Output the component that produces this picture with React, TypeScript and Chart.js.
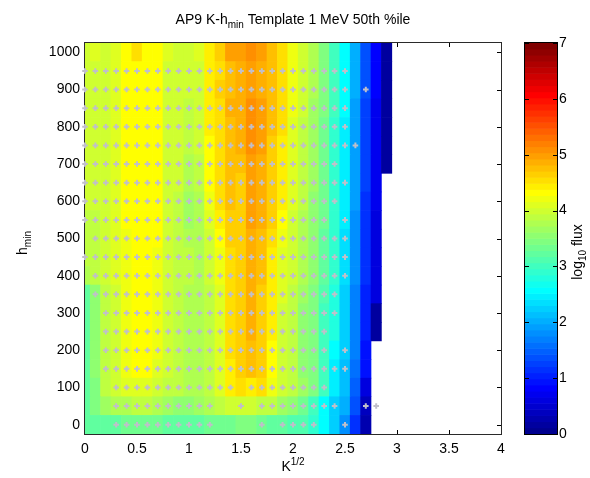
import React, { useEffect, useRef } from "react";
import { Chart, registerables } from "chart.js";

Chart.register(...registerables);

const FONT = '"Liberation Sans", Arial, Helvetica, sans-serif';

// K^1/2 cell centres (columns)
const kValues = [
  0, 0.1, 0.2, 0.3, 0.4, 0.5, 0.6, 0.7, 0.8, 0.9,
  1.0, 1.1, 1.2, 1.3, 1.4, 1.5, 1.6, 1.7, 1.8, 1.9,
  2.0, 2.1, 2.2, 2.3, 2.4, 2.5, 2.6, 2.7, 2.8, 2.9,
];

// h_min cell centres (rows, top to bottom)
const hValues = [1000, 950, 900, 850, 800, 750, 700, 650, 600, 550, 500, 450, 400, 350, 300, 250, 200, 150, 100, 50, 0];

// log10 flux per row (same order as hValues), per column (same order as kValues)
const fluxRows: (number | null)[][] = [
  [4.05, 4.15, 4.05, 4.2, 4.35, 4.55, 4.4, 4.4, 4.15, 4.1, 4.1, 4.15, 4.45, 4.7, 5.0, 5.0, 5.15, 5.0, 4.85, 4.6, 4.27, 4.06, 3.8, 3.5, 3.1, 2.62, 2.05, 1.4, 0.85, 0.2],
  [4.0, 4.05, 4.0, 4.2, 4.35, 4.4, 4.4, 4.4, 4.1, 4.0, 4.0, 4.1, 4.45, 4.6, 4.85, 4.95, 5.05, 4.95, 4.8, 4.6, 4.27, 4.06, 3.8, 3.52, 3.1, 2.62, 2.05, 1.4, 0.85, 0.2],
  [4.0, 4.05, 4.0, 4.2, 4.35, 4.4, 4.4, 4.4, 4.1, 4.0, 4.0, 4.1, 4.5, 4.65, 4.85, 4.95, 5.05, 4.95, 4.8, 4.6, 4.27, 4.06, 3.8, 3.52, 3.1, 2.62, 2.05, 1.4, 0.85, 0.2],
  [4.0, 4.05, 4.0, 4.2, 4.35, 4.4, 4.4, 4.4, 4.1, 4.0, 3.95, 4.05, 4.45, 4.6, 4.9, 4.95, 5.1, 5.05, 4.8, 4.6, 4.25, 4.0, 3.75, 3.45, 3.05, 2.6, 2.0, 1.35, 0.8, 0.2],
  [4.0, 4.05, 4.0, 4.2, 4.35, 4.4, 4.4, 4.4, 4.1, 4.0, 3.9, 4.05, 4.45, 4.6, 4.85, 4.95, 5.1, 5.05, 4.8, 4.55, 4.2, 3.95, 3.7, 3.4, 3.0, 2.55, 1.95, 1.3, 0.8, 0.2],
  [4.0, 4.05, 4.0, 4.2, 4.35, 4.4, 4.4, 4.4, 4.1, 4.0, 3.9, 4.0, 4.4, 4.6, 4.85, 4.9, 5.1, 5.0, 4.75, 4.5, 4.2, 3.95, 3.7, 3.4, 3.0, 2.55, 1.95, 1.3, 0.8, 0.2],
  [4.0, 4.05, 4.0, 4.2, 4.35, 4.4, 4.4, 4.4, 4.1, 4.0, 3.85, 3.95, 4.4, 4.6, 4.85, 4.8, 5.05, 4.95, 4.75, 4.5, 4.2, 3.95, 3.7, 3.4, 3.0, 2.55, 1.95, 1.3, 0.8, 0.2],
  [4.0, 4.05, 4.0, 4.2, 4.35, 4.4, 4.4, 4.4, 4.1, 4.0, 3.8, 3.9, 4.35, 4.6, 4.85, 4.75, 5.0, 4.95, 4.7, 4.45, 4.15, 3.9, 3.7, 3.4, 3.0, 2.55, 1.95, 1.3, 0.75, null],
  [4.0, 4.0, 4.0, 4.2, 4.35, 4.4, 4.4, 4.4, 4.1, 3.95, 3.75, 3.8, 4.3, 4.55, 4.8, 4.75, 5.0, 4.9, 4.7, 4.45, 4.15, 3.9, 3.65, 3.35, 3.0, 2.5, 1.95, 1.25, 0.75, null],
  [3.95, 3.95, 4.0, 4.2, 4.35, 4.4, 4.4, 4.4, 4.1, 3.9, 3.75, 3.8, 4.2, 4.5, 4.75, 4.75, 5.0, 4.9, 4.7, 4.4, 4.1, 3.85, 3.65, 3.35, 2.95, 2.5, 1.9, 1.2, 0.7, null],
  [3.95, 3.95, 4.0, 4.15, 4.3, 4.4, 4.4, 4.35, 4.05, 3.95, 3.85, 3.8, 4.1, 4.35, 4.65, 4.75, 4.95, 4.85, 4.55, 4.25, 4.0, 3.8, 3.6, 3.3, 2.95, 2.45, 1.9, 1.15, 0.7, null],
  [3.95, 3.95, 4.0, 4.15, 4.3, 4.4, 4.4, 4.3, 4.05, 3.95, 3.9, 3.8, 4.0, 4.25, 4.6, 4.75, 4.9, 4.8, 4.5, 4.2, 4.0, 3.8, 3.6, 3.3, 2.95, 2.45, 1.9, 1.15, 0.7, null],
  [3.85, 3.9, 4.0, 4.15, 4.3, 4.4, 4.4, 4.3, 4.05, 3.95, 3.9, 3.8, 4.0, 4.25, 4.6, 4.75, 4.9, 4.8, 4.5, 4.2, 4.0, 3.8, 3.6, 3.3, 2.95, 2.45, 1.9, 1.15, 0.7, null],
  [3.3, 3.65, 3.95, 4.1, 4.25, 4.4, 4.4, 4.25, 4.0, 3.95, 3.85, 3.8, 3.95, 4.2, 4.6, 4.75, 4.9, 4.75, 4.45, 4.15, 3.95, 3.7, 3.5, 3.15, 2.85, 2.3, 1.75, 1.1, 0.65, null],
  [3.3, 3.6, 3.95, 4.1, 4.25, 4.4, 4.4, 4.25, 4.0, 3.95, 3.85, 3.8, 3.95, 4.2, 4.6, 4.75, 4.9, 4.75, 4.45, 4.1, 3.95, 3.65, 3.45, 3.1, 2.8, 2.25, 1.7, 1.05, 0.2, null],
  [3.3, 3.6, 3.95, 4.1, 4.25, 4.4, 4.4, 4.25, 4.0, 3.95, 3.85, 3.8, 3.95, 4.2, 4.6, 4.75, 4.9, 4.75, 4.45, 4.1, 3.95, 3.65, 3.45, 3.1, 2.8, 2.25, 1.7, 1.05, 0.2, null],
  [3.3, 3.6, 3.95, 4.1, 4.25, 4.4, 4.4, 4.25, 4.0, 3.95, 3.85, 3.8, 3.95, 4.2, 4.55, 4.7, 4.85, 4.7, 4.4, 4.1, 3.95, 3.65, 3.45, 3.05, 2.6, 2.25, 1.7, 1.0, null, null],
  [3.3, 3.6, 3.95, 4.1, 4.25, 4.4, 4.35, 4.2, 4.0, 3.95, 3.85, 3.8, 3.95, 4.2, 4.5, 4.65, 4.8, 4.65, 4.35, 4.1, 3.95, 3.65, 3.45, 3.05, 2.55, 2.2, 1.6, 0.95, null, null],
  [3.3, 3.55, 3.9, 4.0, 4.15, 4.2, 4.15, 4.05, 3.95, 3.9, 3.85, 3.8, 3.95, 4.15, 4.45, 4.55, 4.5, 4.55, 4.25, 4.1, 3.95, 3.7, 3.5, 3.05, 2.55, 2.2, 1.55, 0.7, null, null],
  [3.3, 3.45, 3.7, 3.8, 3.85, 3.9, 3.9, 3.8, 3.7, 3.65, 3.65, 3.7, 3.8, 3.9, 4.0, 4.1, 4.0, 3.95, 3.9, 3.75, 3.6, 3.4, 3.1, 2.6, 2.3, 2.05, 1.4, 0.45, null, null],
  [3.25, 3.3, 3.3, 3.3, 3.35, 3.35, 3.35, 3.35, 3.3, 3.3, 3.3, 3.3, 3.35, 3.35, 3.35, 3.5, 3.45, 3.35, 3.3, 3.25, 3.2, 3.2, 2.9, 2.6, 2.25, 1.9, 1.25, 0.35, null, null],
];

// Column index ranges (inclusive) of the grey template markers, per row (same order as hValues)
const dotRanges: number[][][] = [
  [],
  [[0, 25]],
  [[0, 25], [27, 27]],
  [[0, 25]],
  [[0, 25]],
  [[0, 26]],
  [[0, 24]],
  [[0, 25]],
  [[0, 24]],
  [[0, 23], [25, 25]],
  [[1, 25]],
  [[0, 25]],
  [[1, 25]],
  [[1, 24]],
  [[2, 24]],
  [[2, 23]],
  [[2, 23], [25, 25]],
  [[2, 25]],
  [[3, 14], [16, 23]],
  [[3, 12], [15, 15], [17, 24], [27, 28]],
  [[3, 12], [17, 17], [19, 22], [25, 25]],
];

const xTicks = [0, 0.5, 1, 1.5, 2, 2.5, 3, 3.5, 4];
const yTicks = [0, 100, 200, 300, 400, 500, 600, 700, 800, 900, 1000];
const cbTicks = [0, 1, 2, 3, 4, 5, 6, 7];
const cbMin = 0;
const cbMax = 7;

// MATLAB jet(64)
function jet64(i: number): string {
  const k = i + 1;
  let r = 0, g = 0, b = 0;
  if (k >= 9 && k <= 24) g = (k - 8) / 16;
  else if (k >= 25 && k <= 39) g = 1;
  else if (k >= 40 && k <= 55) g = (56 - k) / 16;
  if (k >= 25 && k <= 40) r = (k - 24) / 16;
  else if (k >= 41 && k <= 55) r = 1;
  else if (k >= 56) r = (72 - k) / 16;
  if (k <= 8) b = (k + 8) / 16;
  else if (k <= 23) b = 1;
  else if (k <= 39) b = (40 - k) / 16;
  return `rgb(${Math.round(r * 255)},${Math.round(g * 255)},${Math.round(b * 255)})`;
}

function fluxColor(v: number): string {
  let idx = Math.floor(((v - cbMin) / (cbMax - cbMin)) * 64 - 0.5);
  idx = Math.max(0, Math.min(63, idx));
  return jet64(idx);
}

function expand(ranges: number[][]): number[] {
  const out: number[] = [];
  for (const [a, b] of ranges) for (let i = a; i <= b; i++) out.push(i);
  return out;
}

type Seg = { t: string; size: number; dy: number };

function drawRich(ctx: CanvasRenderingContext2D, segs: Seg[], x: number, y: number, rotate: boolean) {
  ctx.save();
  ctx.translate(x, y);
  if (rotate) ctx.rotate(-Math.PI / 2);
  ctx.fillStyle = "#000";
  ctx.textBaseline = "alphabetic";
  ctx.textAlign = "left";
  let total = 0;
  const widths = segs.map((s) => {
    ctx.font = `${s.size}px ${FONT}`;
    const w = ctx.measureText(s.t).width;
    total += w;
    return w;
  });
  let sx = -total / 2;
  segs.forEach((s, i) => {
    ctx.font = `${s.size}px ${FONT}`;
    ctx.fillText(s.t, sx, s.dy);
    sx += widths[i];
  });
  ctx.restore();
}

const decorPlugin = {
  id: "matlabDecor",
  beforeDatasetsDraw(chart: any) {
    const { ctx, chartArea: a, scales } = chart;
    ctx.save();
    ctx.strokeStyle = "#000";
    ctx.lineWidth = 1;
    const tl = 4;
    ctx.beginPath();
    for (const v of xTicks) {
      const px = Math.round(scales.x.getPixelForValue(v)) + 0.5;
      ctx.moveTo(px, a.bottom);
      ctx.lineTo(px, a.bottom - tl);
      ctx.moveTo(px, a.top);
      ctx.lineTo(px, a.top + tl);
    }
    for (const v of yTicks) {
      const py = Math.round(scales.y.getPixelForValue(v)) + 0.5;
      ctx.moveTo(a.left, py);
      ctx.lineTo(a.left + tl, py);
      ctx.moveTo(a.right, py);
      ctx.lineTo(a.right - tl, py);
    }
    ctx.stroke();
    ctx.restore();
  },
  afterDatasetDraw(chart: any, args: any) {
    if (args.meta.type !== "bar") return;
    const { ctx, chartArea: a } = chart;
    ctx.save();
    ctx.strokeStyle = "#2a2a2a";
    ctx.lineWidth = 1;
    ctx.strokeRect(Math.round(a.left) - 0.5, Math.round(a.top) - 0.5, Math.round(a.right - a.left) + 1, Math.round(a.bottom - a.top) + 1);
    ctx.restore();
  },
  afterDraw(chart: any) {
    const { ctx, chartArea: a, scales } = chart;
    const cb = scales.cb;
    // colorbar
    const x0 = Math.round(a.right) + 24;
    const x1 = Math.round(a.right) + 56;
    ctx.save();
    for (let i = 0; i < 64; i++) {
      const v0 = cbMin + ((cbMax - cbMin) * i) / 64;
      const v1 = cbMin + ((cbMax - cbMin) * (i + 1)) / 64;
      const y0 = cb.getPixelForValue(v0);
      const y1 = cb.getPixelForValue(v1);
      ctx.fillStyle = jet64(i);
      ctx.fillRect(x0, y1 - 0.3, x1 - x0, y0 - y1 + 0.6);
    }
    ctx.strokeStyle = "#000";
    ctx.lineWidth = 1;
    const yt = Math.round(cb.getPixelForValue(cbMax));
    const yb = Math.round(cb.getPixelForValue(cbMin));
    ctx.strokeRect(x0 - 0.5, yt - 0.5, x1 - x0 + 1, yb - yt + 1);
    ctx.beginPath();
    for (const v of cbTicks) {
      const py = Math.round(cb.getPixelForValue(v)) + 0.5;
      ctx.moveTo(x1, py);
      ctx.lineTo(x1 - 4, py);
      ctx.moveTo(x0, py);
      ctx.lineTo(x0 + 4, py);
    }
    ctx.stroke();
    ctx.restore();

    const cx = (a.left + a.right) / 2;
    drawRich(ctx, [
      { t: "AP9 K-h", size: 14, dy: 0 },
      { t: "min", size: 10, dy: 4 },
      { t: " Template 1 MeV 50th %ile", size: 14, dy: 0 },
    ], cx, 24, false);
    drawRich(ctx, [
      { t: "K", size: 14, dy: 0 },
      { t: "1/2", size: 10, dy: -6 },
    ], cx, 471, false);
    drawRich(ctx, [
      { t: "h", size: 14, dy: 0 },
      { t: "min", size: 10, dy: 4 },
    ], 27, 243, true);
    drawRich(ctx, [
      { t: "log", size: 14, dy: 0 },
      { t: "10", size: 10, dy: 4 },
      { t: " flux", size: 14, dy: 0 },
    ], 582, 252, true);
  },
};

export default function App() {
  const ref = useRef<HTMLCanvasElement>(null);
  useEffect(() => {
    const halfH = (hValues[0] - hValues[1]) / 2;
    const cellData: any[] = [];
    const cellColors: string[] = [];
    hValues.forEach((h, r) => {
      fluxRows[r].forEach((v, c) => {
        if (v === null || v === undefined) return;
        cellData.push({ x: kValues[c], y: [h - halfH, h + halfH] });
        cellColors.push(fluxColor(v));
      });
    });
    const dotData: any[] = [];
    hValues.forEach((h, r) => {
      expand(dotRanges[r]).forEach((c) => dotData.push({ x: kValues[c], y: h }));
    });

    const tickFont = { family: FONT, size: 14 };
    const chart = new Chart(ref.current as HTMLCanvasElement, {
      type: "bar",
      data: {
        datasets: [
          {
            type: "scatter",
            label: "template points",
            data: dotData,
            pointStyle: "cross",
            pointRadius: 2.8,
            borderColor: "#c0bfca",
            backgroundColor: "#c0bfca",
            borderWidth: 2,
            order: 0,
            clip: false,
            xAxisID: "x",
            yAxisID: "y",
          } as any,
          {
            type: "bar",
            label: "log10 flux",
            data: cellData,
            backgroundColor: cellColors,
            borderWidth: 0,
            barPercentage: 1,
            categoryPercentage: 1,
            order: 1,
            clip: 0,
            xAxisID: "x",
            yAxisID: "y",
          } as any,
        ],
      },
      options: {
        animation: false,
        responsive: false,
        devicePixelRatio: 1,
        events: [],
        layout: { padding: { top: 43, left: 0, right: 0, bottom: 0 }, autoPadding: false },
        plugins: {
          legend: { display: false },
          tooltip: { enabled: false },
          title: { display: false },
        },
        scales: {
          x: {
            type: "linear",
            min: 0,
            max: 4,
            offset: false,
            grid: { display: false, drawTicks: false },
            border: { display: false },
            afterBuildTicks: (s: any) => {
              s.ticks = xTicks.map((v) => ({ value: v }));
            },
            afterFit: (s: any) => {
              s.height = 44;
              s.paddingLeft = 0;
              s.paddingRight = 0;
            },
            ticks: {
              color: "#000",
              font: tickFont,
              padding: 7,
              maxRotation: 0,
              autoSkip: false,
              callback: (v: any) => String(v),
            },
          },
          y: {
            type: "linear",
            min: -25,
            max: 1025,
            grid: { display: false, drawTicks: false },
            border: { display: false },
            afterBuildTicks: (s: any) => {
              s.ticks = yTicks.map((v) => ({ value: v }));
            },
            afterFit: (s: any) => {
              s.width = 85;
              s.paddingTop = 0;
              s.paddingBottom = 0;
            },
            ticks: {
              color: "#000",
              font: tickFont,
              padding: 5,
              autoSkip: false,
              callback: (v: any) => String(v),
            },
          },
          cb: {
            type: "linear",
            axis: "y",
            position: "right",
            min: cbMin,
            max: cbMax,
            grid: { display: false, drawTicks: false },
            border: { display: false },
            afterBuildTicks: (s: any) => {
              s.ticks = cbTicks.map((v) => ({ value: v }));
            },
            afterFit: (s: any) => {
              s.width = 89;
              s.paddingTop = 0;
              s.paddingBottom = 0;
            },
            ticks: {
              color: "#000",
              font: tickFont,
              padding: 58,
              autoSkip: false,
              callback: (v: any) => String(v),
            },
          },
        } as any,
      },
      plugins: [decorPlugin],
    });
    return () => chart.destroy();
  }, []);

  return (
    <div style={{ position: "absolute", left: 0, top: 0, width: 590, height: 478, background: "#fff" }}>
      <canvas ref={ref} width={590} height={478} style={{ display: "block", width: 590, height: 478 }} />
    </div>
  );
}
